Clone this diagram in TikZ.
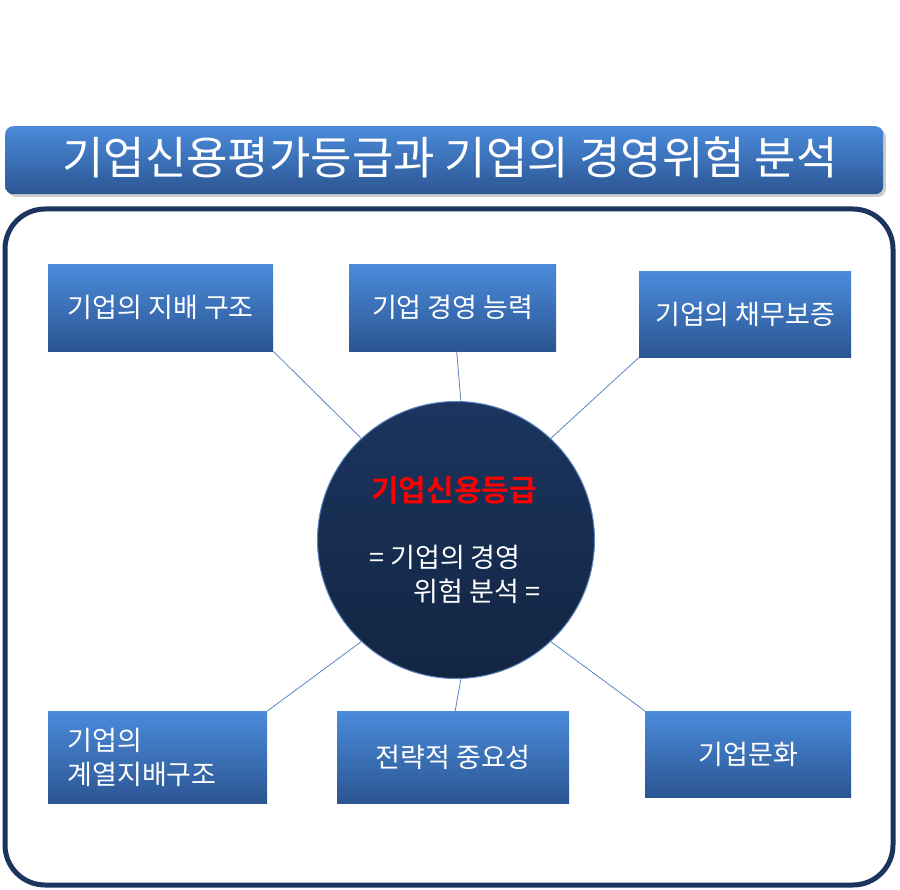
\documentclass[tikz,border=0pt]{standalone}
\usepackage{fontspec}
\setmainfont{Noto Sans CJK KR}[BoldFont={Noto Sans CJK KR Bold}]
\usetikzlibrary{shadows}
\definecolor{bt}{HTML}{4B8BDB}
\definecolor{bb}{HTML}{2B5592}
\definecolor{navy}{HTML}{1B355F}
\definecolor{ln}{HTML}{5B86C0}
\tikzset{x=1pt,y=-1pt,
 box/.style={draw=none,top color=bt,bottom color=bb,text=white,font=\fontsize{27}{34}\selectfont,inner sep=0pt},
 con/.style={draw=ln,line width=0.8pt}}
\begin{document}
\begin{tikzpicture}
\useasboundingbox (0,0) rectangle (900,890);
\fill[white] (0,0) rectangle (900,890);
\node[box,rounded corners=8pt,minimum width=878pt,minimum height=68pt,anchor=north west,drop shadow={opacity=0.4}] (title) at (5,126) {};
\node[text=white,font=\fontsize{45}{50}\selectfont] (tt) at (450,157) {기업신용평가등급과 기업의 경영위험 분석};
\draw[navy,line width=5pt,rounded corners=40pt] (5,209) rectangle (893,885);
\node[circle,minimum size=277pt,draw=ln,line width=1pt,top color=navy,bottom color=navy!70!black,inner sep=0pt] (c) at (456,540) {};
\node[box,minimum width=225pt,minimum height=87pt,anchor=north west] (b1) at (48,264) {기업의 지배 구조};
\node[box,minimum width=207pt,minimum height=87pt,anchor=north west] (b2) at (349,264) {기업 경영 능력};
\node[box,minimum width=212pt,minimum height=86pt,anchor=north west] (b3) at (639,271) {기업의 채무보증};
\node[box,minimum width=219pt,minimum height=92pt,anchor=north west] (b4) at (48,711) {};
\node[text=white,font=\fontsize{27}{34}\selectfont,align=left,anchor=west] at (64,757) {기업의\\계열지배구조};
\node[box,minimum width=232pt,minimum height=92pt,anchor=north west] (b5) at (337,711) {전략적 중요성};
\node[box,minimum width=206pt,minimum height=86pt,anchor=north west] (b6) at (645,711) {기업문화};
\draw[con] (b1.south east) -- (c.133);
\draw[con] (b2.south) ++(4,0) -- (c.88);
\draw[con] (b3.south west) -- (c.47);
\draw[con] (b4.north east) -- (c.227);
\draw[con] (b5.north) ++(2,0) -- (c.272);
\draw[con] (b6.north west) -- (c.313);
\node[text=red,font=\bfseries\fontsize{30}{34}\selectfont] (t1) at (454,490) {기업신용등급};
\node[text=white,font=\fontsize{27}{32}\selectfont] (t2) at (445,557) {= 기업의 경영};
\node[text=white,font=\fontsize{27}{32}\selectfont] (t3) at (477,591) {위험 분석 =};
\end{tikzpicture}
\end{document}
